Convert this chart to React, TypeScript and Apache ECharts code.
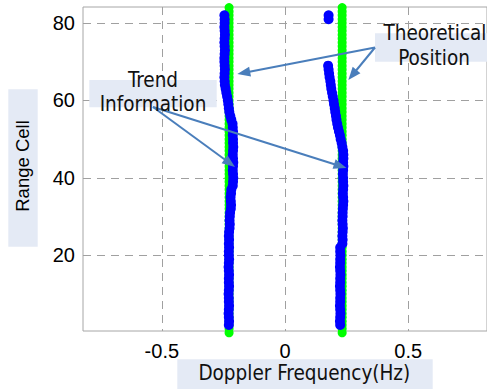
import React, { useEffect, useRef } from "react";
import * as echarts from "echarts";

// Range cells of the theoretical (green) tracks
const theoryCells = [
  0, 1, 2, 3, 4, 5, 6, 7, 8, 9, 10, 11, 12, 13, 14, 15, 16, 17, 18, 19, 20,
  21, 22, 23, 24, 25, 26, 27, 28, 29, 30, 31, 32, 33, 34, 35, 36, 37, 38, 39,
  40, 41, 42, 43, 44, 45, 46, 47, 48, 49, 50, 51, 52, 53, 54, 55, 56, 57, 58,
  59, 60, 61, 62, 63, 64, 65, 66, 67, 68, 69, 70, 71, 72, 73, 74, 75, 76, 77,
  78, 79, 80, 81, 82, 83, 84,
];
const leftTheoryX = -0.227;
const rightTheoryX = 0.232;

// Measured trend (blue), left track: cells 2..82
const leftTrendStartCell = 2;
const leftTrendX = [
  -0.228, -0.227, -0.228, -0.229, -0.228, -0.227, -0.228, -0.228, -0.229, -0.228,
  -0.227, -0.228, -0.228, -0.227, -0.228, -0.229, -0.228, -0.227, -0.228, -0.228,
  -0.227, -0.228, -0.227, -0.228, -0.227,
  -0.225, -0.224, -0.225, -0.224, -0.223,
  -0.22, -0.219, -0.22, -0.221, -0.219, -0.218,
  -0.212, -0.211, -0.21, -0.211, -0.212, -0.211, -0.21, -0.211, -0.212, -0.211,
  -0.21, -0.211, -0.211, -0.212, -0.211, -0.212, -0.213,
  -0.218, -0.222, -0.226, -0.228, -0.23, -0.232, -0.235, -0.238, -0.241, -0.244,
  -0.245, -0.246, -0.245, -0.244, -0.245, -0.246, -0.246, -0.245, -0.244, -0.245,
  -0.246, -0.245, -0.244, -0.245, -0.246, -0.245, -0.245, -0.246,
];

// Measured trend (blue), right track: cells 2..69
const rightTrendStartCell = 2;
const rightTrendX = [
  0.224, 0.223, 0.224, 0.225, 0.224, 0.223, 0.224, 0.224, 0.225, 0.224, 0.223,
  0.224, 0.224, 0.225, 0.224, 0.223, 0.224, 0.224, 0.225, 0.224, 0.224,
  0.233, 0.234, 0.233, 0.234, 0.235, 0.234, 0.233, 0.234, 0.234, 0.235,
  0.236, 0.237, 0.236, 0.235, 0.236, 0.237, 0.236, 0.236, 0.235, 0.236, 0.237,
  0.236, 0.237, 0.237,
  0.236, 0.233, 0.23, 0.226, 0.223, 0.219, 0.215, 0.212, 0.209, 0.207, 0.204,
  0.202, 0.199, 0.197, 0.194, 0.191, 0.188, 0.186, 0.184, 0.181, 0.179, 0.177,
  0.175,
];
const rightOutlierCells = [81, 82];
const rightOutlierX = [0.177, 0.177];

const xTicks = [-0.5, 0, 0.5];
const yTicks = [20, 40, 60, 80];

const BLUE = "#0000ff";
const GREEN = "#00ff00";
const ARROW = "#4a7ebb";
const BOX = "#e4eaf5";
const ANN_FONT = "'DejaVu Sans Condensed', 'DejaVu Sans', sans-serif";
const TICK_FONT = "'Liberation Sans', Arial, sans-serif";

function arrow(x1: number, y1: number, x2: number, y2: number) {
  const dx = x2 - x1;
  const dy = y2 - y1;
  const len = Math.hypot(dx, dy);
  const ux = dx / len;
  const uy = dy / len;
  const head = 13;
  const half = 5;
  const bx = x2 - ux * head;
  const by = y2 - uy * head;
  return [
    {
      type: "line",
      z: 100,
      shape: { x1, y1, x2: bx + ux * 2, y2: by + uy * 2 },
      style: { stroke: ARROW, lineWidth: 2 },
    },
    {
      type: "polygon",
      z: 100,
      shape: {
        points: [
          [x2, y2],
          [bx - uy * half, by + ux * half],
          [bx + uy * half, by - ux * half],
        ],
      },
      style: { fill: ARROW },
    },
  ];
}

function annText(text: string, x: number, y: number) {
  return {
    type: "text",
    z: 101,
    x,
    y,
    style: {
      text,
      align: "center",
      verticalAlign: "middle",
      fontFamily: ANN_FONT,
      fontSize: 20.5,
      fill: "#111",
    },
  };
}

export default function App() {
  const ref = useRef<HTMLDivElement>(null);
  useEffect(() => {
    if (!ref.current) return;
    const chart = echarts.init(ref.current, undefined, { renderer: "svg" });

    const leftTheory = theoryCells.map((c) => [leftTheoryX, c]);
    const rightTheory = theoryCells.map((c) => [rightTheoryX, c]);
    const leftTrend = leftTrendX.map((x, i) => [x, leftTrendStartCell + i]);
    const rightTrend = rightTrendX
      .map((x, i) => [x, rightTrendStartCell + i])
      .concat(rightOutlierX.map((x, i) => [x, rightOutlierCells[i]]));

    const scatter = (data: number[][], color: string, size: number, z: number) => ({
      type: "scatter",
      data,
      symbolSize: size,
      clip: false,
      itemStyle: { color, opacity: 1 },
      emphasis: { disabled: true },
      z,
    });

    const option: any = {
      animation: false,
      backgroundColor: "#ffffff",
      grid: {
        left: 83,
        top: 7,
        width: 409,
        height: 324,
        show: true,
        borderColor: "#a6a6a6",
        borderWidth: 1,
        backgroundColor: "transparent",
      },
      xAxis: {
        type: "value",
        min: -0.82,
        max: 0.82,
        axisLine: { show: false },
        axisTick: { show: false, customValues: xTicks },
        axisLabel: {
          customValues: xTicks,
          formatter: (v: number) => String(v),
          fontFamily: TICK_FONT,
          fontSize: 20,
          color: "#000",
          margin: 10,
        },
        splitLine: {
          show: true,
          lineStyle: { color: "#a0a0a0", type: [8, 6], width: 1 },
        },
      },
      yAxis: {
        type: "value",
        min: 0.45,
        max: 84.15,
        axisLine: { show: false },
        axisTick: { show: false, customValues: yTicks },
        axisLabel: {
          customValues: yTicks,
          formatter: (v: number) => String(v),
          fontFamily: TICK_FONT,
          fontSize: 20,
          color: "#000",
          margin: 8,
        },
        splitLine: {
          show: true,
          lineStyle: { color: "#a0a0a0", type: [8, 6], width: 1 },
        },
      },
      series: [
        scatter(leftTheory, GREEN, 9, 2),
        scatter(rightTheory, GREEN, 9, 2),
        scatter(leftTrend, BLUE, 10, 3),
        scatter(rightTrend, BLUE, 10, 3),
      ],
      graphic: [
        // Trend Information label
        {
          type: "rect",
          z: 99,
          shape: { x: 89.3, y: 80, width: 127.4, height: 27.3 },
          style: { fill: BOX },
        },
        annText("Trend", 153, 80),
        annText("Information", 153, 104.4),
        // Theoretical Position label
        {
          type: "rect",
          z: 99,
          shape: { x: 375, y: 33.3, width: 120, height: 28.4 },
          style: { fill: BOX },
        },
        annText("Theoretical", 435, 33.4),
        annText("Position", 434, 57.7),
        // Axis name boxes
        {
          type: "rect",
          z: 99,
          shape: { x: 8.3, y: 89.3, width: 29.4, height: 157.4 },
          style: { fill: BOX },
        },
        {
          type: "text",
          z: 101,
          x: 22.5,
          y: 166,
          rotation: Math.PI / 2,
          style: {
            text: "Range Cell",
            align: "center",
            verticalAlign: "middle",
            fontFamily: TICK_FONT,
            fontSize: 18.5,
            fill: "#000",
          },
        },
        {
          type: "rect",
          z: 99,
          shape: { x: 177.3, y: 359.3, width: 255.4, height: 40 },
          style: { fill: BOX },
        },
        annText("Doppler Frequency(Hz)", 304.3, 372.5),
        // Arrows
        ...arrow(153, 107, 235, 167),
        ...arrow(153, 107, 346.5, 168),
        ...arrow(375, 47.5, 237.3, 74),
        ...arrow(375, 47.5, 348.3, 80),
      ],
    };
    chart.setOption(option);
    return () => chart.dispose();
  }, []);
  return (
    <div
      ref={ref}
      style={{ position: "absolute", left: 0, top: 0, width: 487, height: 389 }}
    />
  );
}
